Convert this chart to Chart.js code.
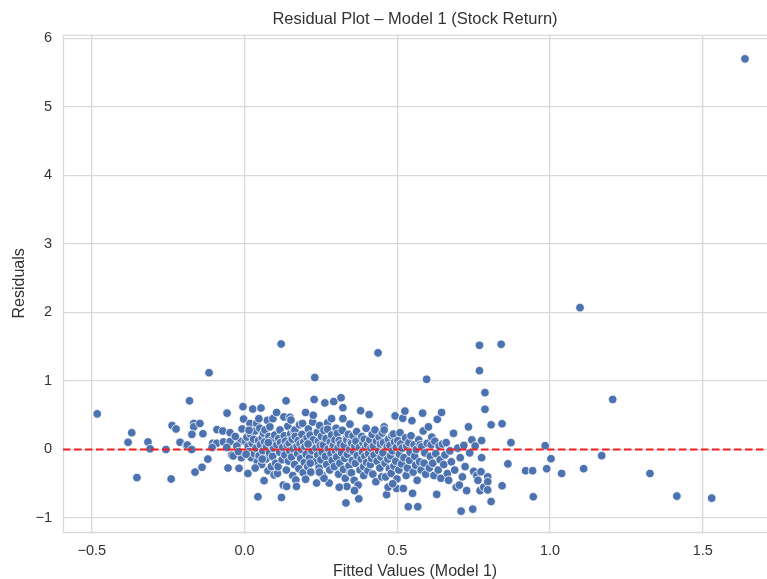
<!DOCTYPE html>
<html>
<head>
<meta charset="utf-8">
<title>Residual Plot</title>
<script src="https://cdn.jsdelivr.net/npm/chart.js@4.4.0/dist/chart.umd.min.js"></script>
<style>
  html, body { margin: 0; padding: 0; background: #fff; }
</style>
</head>
<body>
<canvas id="residChart" width="767" height="579"></canvas>
<script>
// fitted value / residual pairs, grouped by fitted-value band
const leftTail = [
  [-0.482,0.52],[-0.381,0.105],[-0.369,0.245],[-0.352,-0.41],[-0.316,0.11],[-0.309,0.01],
  [-0.257,0.0],[-0.24,-0.43],[-0.237,0.35],[-0.224,0.30],[-0.211,0.105],[-0.19,0.055],
  [-0.18,0.71],[-0.116,1.12],[-0.166,0.38],[-0.166,0.33],[-0.146,0.38],[-0.172,0.22],
  [-0.136,0.23],[-0.187,0.065],[-0.173,0.0],[-0.09,0.29],[-0.071,0.27],[-0.047,0.245],
  [-0.057,0.53],[-0.104,0.09],[-0.091,0.09],[-0.069,0.11],[-0.047,0.115],[-0.106,0.03],
  [-0.058,0.03],[-0.042,-0.08],[-0.037,-0.095],[-0.12,-0.14],[-0.139,-0.26],[-0.162,-0.33],
  [-0.054,-0.27],[-0.018,-0.275],[-0.005,0.625],[-0.003,0.445],[-0.015,0.12],[-0.025,0.05],
  [-0.01,-0.12],[-0.03,0.19],[-0.02,-0.03],[-0.008,0.3]
];
const lowBand = [
  [0.003,0.12],[0.008,0.18],[0.012,0.05],[0.015,-0.03],[0.018,0.38],[0.02,0.22],[0.022,-0.12],
  [0.025,0.09],[0.027,0.59],[0.03,0.15],[0.032,-0.06],[0.035,0.27],[0.038,0.02],[0.04,0.38],
  [0.042,-0.18],[0.044,-0.69],[0.046,0.13],[0.048,-0.09],[0.05,0.31],[0.052,0.07],[0.054,0.605],
  [0.056,-0.22],[0.058,0.17],[0.06,-0.02],[0.062,0.24],[0.064,-0.455],[0.066,0.11],[0.067,0.285],
  [0.07,-0.14],[0.072,0.04],[0.075,0.425],[0.077,-0.31],[0.08,0.19],[0.082,-0.05],[0.083,0.33],
  [0.085,0.08],[0.088,-0.25],[0.09,0.14],[0.092,-0.1],[0.095,0.02],[0.097,-0.37],[0.099,0.21],
  [0.011,-0.35],[0.005,-0.07],[0.035,-0.27],[0.015,0.28],[0.058,-0.14],[0.078,0.1],[0.093,0.45],
  [0.047,0.45],
  [0.102,-0.2],[0.105,0.54],[0.106,0.07],[0.108,-0.35],[0.11,-0.25],[0.112,0.16],[0.115,-0.04],
  [0.116,0.285],[0.118,0.1],[0.12,1.54],[0.121,-0.70],[0.123,-0.15],[0.125,0.03],[0.127,-0.52],
  [0.129,0.475],[0.13,0.2],[0.132,-0.08],[0.134,0.12],[0.136,0.71],[0.137,-0.3],[0.138,-0.54],
  [0.14,0.06],[0.142,0.34],[0.144,-0.17],[0.146,0.09],[0.148,-0.02],[0.149,0.47],[0.151,0.23],
  [0.152,0.43],[0.154,-0.11],[0.156,0.15],[0.158,-0.38],[0.16,0.01],[0.162,0.27],[0.164,-0.22],
  [0.165,0.285],[0.166,0.19],[0.168,-0.445],[0.17,-0.54],[0.172,0.05],[0.174,-0.06],[0.176,0.13],
  [0.178,-0.28],[0.18,0.36],[0.182,0.08],[0.184,-0.13],[0.186,0.0],[0.188,0.22],[0.19,0.38],
  [0.192,-0.34],[0.194,0.11],[0.196,-0.19],[0.198,0.04],[0.2,-0.435],[0.2,0.54]
];
const midBand = [
  [0.202,-0.07],[0.205,0.17],[0.207,-0.25],[0.209,0.3],[0.211,0.05],[0.213,-0.12],[0.215,0.21],
  [0.217,-0.33],[0.219,0.09],[0.221,-0.02],[0.223,0.4],[0.225,0.14],[0.228,0.73],[0.23,1.05],
  [0.232,-0.18],[0.234,0.02],[0.236,-0.49],[0.238,0.25],[0.24,-0.08],[0.242,0.12],[0.244,-0.27],
  [0.246,0.35],[0.248,0.06],[0.25,-0.15],[0.252,0.19],[0.254,-0.04],[0.256,-0.38],[0.258,0.065],
  [0.26,0.28],[0.263,0.68],[0.265,-0.1],[0.267,0.16],[0.269,-0.22],[0.272,0.39],[0.272,0.295],
  [0.274,0.01],[0.277,-0.49],[0.279,-0.3],[0.281,0.11],[0.283,-0.06],[0.285,0.21],[0.287,-0.16],
  [0.289,0.04],[0.291,0.065],[0.292,0.70],[0.294,-0.25],[0.296,0.14],[0.298,-0.03],[0.3,0.31],
  [0.26,-0.42],[0.245,-0.33],[0.225,0.5],[0.215,-0.2],[0.285,0.45],[0.208,0.08],
  [0.302,-0.11],[0.304,0.235],[0.306,0.02],[0.308,-0.36],[0.31,0.13],[0.312,-0.2],[0.314,0.08],
  [0.316,0.755],[0.318,-0.05],[0.32,0.28],[0.322,0.61],[0.322,0.45],[0.324,-0.29],[0.326,0.06],
  [0.328,-0.13],[0.33,-0.42],[0.332,-0.78],[0.334,0.17],[0.335,0.14],[0.335,-0.54],[0.337,-0.07],
  [0.34,0.22],[0.342,-0.24],[0.344,0.0],[0.346,-0.34],[0.348,0.11],[0.35,-0.34],[0.351,0.09],
  [0.353,-0.16],[0.355,0.2],[0.357,-0.03],[0.359,-0.45],[0.361,0.05],[0.363,-0.2],[0.365,0.12],
  [0.367,0.26],[0.369,-0.09],[0.372,-0.52],[0.374,-0.72],[0.376,0.03],[0.378,-0.3],[0.38,0.565],
  [0.382,-0.14],[0.384,0.19],[0.386,-0.04],[0.388,0.09],[0.39,-0.25],[0.392,0.15],[0.394,-0.1],
  [0.396,0.03],[0.398,0.31],[0.4,-0.19],[0.31,-0.55],[0.345,0.37],[0.36,-0.6],[0.39,-0.38]
];
const upperBand = [
  [0.402,0.07],[0.404,-0.31],[0.406,-0.06],[0.408,0.51],[0.41,0.14],[0.412,-0.22],[0.414,0.02],
  [0.416,-0.13],[0.418,0.22],[0.42,-0.36],[0.422,0.05],[0.424,-0.08],[0.427,0.285],[0.43,-0.47],
  [0.432,0.12],[0.434,-0.17],[0.437,1.41],[0.439,-0.02],[0.441,0.18],[0.443,-0.27],[0.445,0.08],
  [0.447,-0.11],[0.449,-0.4],[0.451,0.24],[0.453,-0.05],[0.455,0.1],[0.457,0.33],[0.457,0.285],
  [0.46,-0.2],[0.462,-0.4],[0.465,-0.66],[0.467,0.04],[0.469,-0.14],[0.471,0.15],[0.474,-0.28],
  [0.476,0.06],[0.478,-0.09],[0.48,-0.35],[0.482,0.2],[0.484,-0.02],[0.487,0.225],[0.489,-0.24],
  [0.491,0.11],[0.493,0.49],[0.495,-0.17],[0.497,0.03],[0.498,-0.57],[0.499,-0.43],[0.47,-0.55],
  [0.485,-0.5],
  [0.502,0.13],[0.505,-0.3],[0.507,-0.07],[0.509,0.245],[0.511,0.08],[0.514,-0.21],[0.516,0.02],
  [0.518,0.455],[0.52,-0.57],[0.522,-0.12],[0.525,0.56],[0.527,0.17],[0.529,-0.38],[0.531,0.05],
  [0.533,-0.27],[0.536,-0.835],[0.538,0.1],[0.54,-0.16],[0.542,-0.04],[0.545,0.2],[0.548,0.42],
  [0.55,-0.64],[0.552,-0.33],[0.555,0.07],[0.557,-0.1],[0.56,-0.23],[0.562,0.0],[0.565,-0.45],
  [0.567,-0.835],[0.57,0.14],[0.573,-0.18],[0.575,0.07],[0.578,-0.3],[0.58,0.04],[0.583,0.53],
  [0.585,0.27],[0.588,-0.2],[0.59,-0.05],[0.593,-0.36],[0.596,1.025],[0.598,0.09]
];
const highBand = [
  [0.602,0.33],[0.605,-0.27],[0.608,-0.1],[0.611,0.07],[0.613,0.18],[0.616,-0.2],[0.62,-0.38],
  [0.623,0.12],[0.626,-0.06],[0.629,-0.655],[0.631,0.44],[0.634,-0.3],[0.637,0.05],[0.64,-0.15],
  [0.643,-0.42],[0.645,0.54],[0.648,0.08],[0.652,-0.22],[0.656,-0.08],[0.66,0.1],[0.664,-0.35],
  [0.668,-0.45],[0.672,-0.02],[0.677,-0.18],[0.684,0.235],[0.688,-0.3],[0.693,-0.55],[0.698,0.02],
  [0.703,-0.52],[0.706,-0.12],[0.709,-0.90],[0.713,-0.4],[0.718,0.06],[0.722,-0.25],[0.727,-0.6],
  [0.733,0.33],[0.737,-0.05],[0.744,0.14],[0.747,-0.87],[0.75,-0.32],[0.755,0.05],[0.76,-0.38],
  [0.764,-0.45],[0.769,1.52],[0.769,1.15],[0.771,-0.60],[0.774,-0.325],[0.776,0.13],[0.776,-0.12],
  [0.783,-0.55],[0.787,0.83],[0.787,0.587],[0.796,-0.40],[0.796,-0.47],[0.796,-0.59],[0.807,0.36],
  [0.807,-0.76]
];
const rightTail = [
  [0.84,1.535],[0.843,0.375],[0.843,-0.53],[0.862,-0.21],[0.872,0.10],[0.92,-0.31],[0.943,-0.31],
  [0.945,-0.69],[0.984,0.055],[0.989,-0.28],[1.003,-0.135],[1.038,-0.35],[1.098,2.07],[1.11,-0.28],
  [1.169,-0.09],[1.205,0.73],[1.327,-0.35],[1.415,-0.68],[1.529,-0.71],[1.638,5.70]
];

const xTicks = [-0.5, 0, 0.5, 1, 1.5];
const yTicks = [-1, 0, 1, 2, 3, 4, 5, 6];

const fontFamily = '"Liberation Sans", Arial, sans-serif';
const textColor = '#333333';
const gridColor = '#d9d9d9';

function minusLabel(v, digits) {
  const s = Math.abs(v).toFixed(digits);
  return v < 0 ? '\u2212' + s : s;
}

const points = [].concat(leftTail, lowBand, midBand, upperBand, highBand, rightTail)
  .map(([x, y]) => ({ x: x, y: y }));

// top, left and bottom edges of the axes box
const frame = {
  id: 'frame',
  beforeDatasetsDraw(chart) {
    const { ctx, chartArea: a } = chart;
    ctx.save();
    ctx.strokeStyle = gridColor;
    ctx.lineWidth = 1.3;
    ctx.beginPath();
    ctx.moveTo(a.right, a.top + 0.5);
    ctx.lineTo(a.left + 0.5, a.top + 0.5);
    ctx.lineTo(a.left + 0.5, a.bottom + 0.5);
    ctx.lineTo(a.right, a.bottom + 0.5);
    ctx.stroke();
    ctx.restore();
  }
};

// dashed red reference line at residual = 0
const zeroLine = {
  id: 'zeroLine',
  afterDatasetsDraw(chart) {
    const { ctx, chartArea: a, scales } = chart;
    const y = scales.y.getPixelForValue(0);
    ctx.save();
    ctx.strokeStyle = '#f02020';
    ctx.lineWidth = 2;
    ctx.setLineDash([7.5, 3.5]);
    ctx.beginPath();
    ctx.moveTo(a.left, y);
    ctx.lineTo(a.right, y);
    ctx.stroke();
    ctx.restore();
  }
};

new Chart(document.getElementById('residChart'), {
  type: 'scatter',
  data: {
    datasets: [{
      data: points,
      backgroundColor: '#4c72b0',
      borderColor: '#ffffff',
      borderWidth: 0.8,
      pointRadius: 4.3,
      pointHoverRadius: 4.3
    }]
  },
  options: {
    responsive: false,
    devicePixelRatio: 1,
    animation: false,
    layout: { autoPadding: false, padding: 0 },
    plugins: {
      legend: { display: false },
      tooltip: { enabled: false },
      title: {
        display: true,
        fullSize: false,
        text: 'Residual Plot \u2013 Model 1 (Stock Return)',
        color: textColor,
        font: { family: fontFamily, size: 16.5, weight: 'normal' },
        padding: { top: 10, bottom: 5 }
      }
    },
    scales: {
      x: {
        type: 'linear',
        min: -0.594,
        max: 1.71,
        afterBuildTicks: s => { s.ticks = xTicks.map(v => ({ value: v })); },
        afterFit: s => { s.height = 47; },
        grid: { color: gridColor, lineWidth: 1.3, drawTicks: false },
        border: { display: false },
        ticks: {
          autoSkip: false,
          maxRotation: 0,
          padding: 10,
          color: textColor,
          font: { family: fontFamily, size: 14.5 },
          callback: v => minusLabel(v, 1)
        },
        title: {
          display: true,
          text: 'Fitted Values (Model 1)',
          color: textColor,
          font: { family: fontFamily, size: 16 },
          padding: { top: 0, bottom: -2 }
        }
      },
      y: {
        type: 'linear',
        min: -1.204,
        max: 6.051,
        afterBuildTicks: s => { s.ticks = yTicks.map(v => ({ value: v })); },
        afterFit: s => { s.width = 63; },
        grid: { color: gridColor, lineWidth: 1.3, drawTicks: false },
        border: { display: false },
        ticks: {
          autoSkip: false,
          padding: 11,
          color: textColor,
          font: { family: fontFamily, size: 14.5 },
          callback: v => minusLabel(v, 0)
        },
        title: {
          display: true,
          text: 'Residuals',
          color: textColor,
          font: { family: fontFamily, size: 16 },
          padding: { top: 10, bottom: 0 }
        }
      }
    }
  },
  plugins: [frame, zeroLine]
});
</script>
</body>
</html>
